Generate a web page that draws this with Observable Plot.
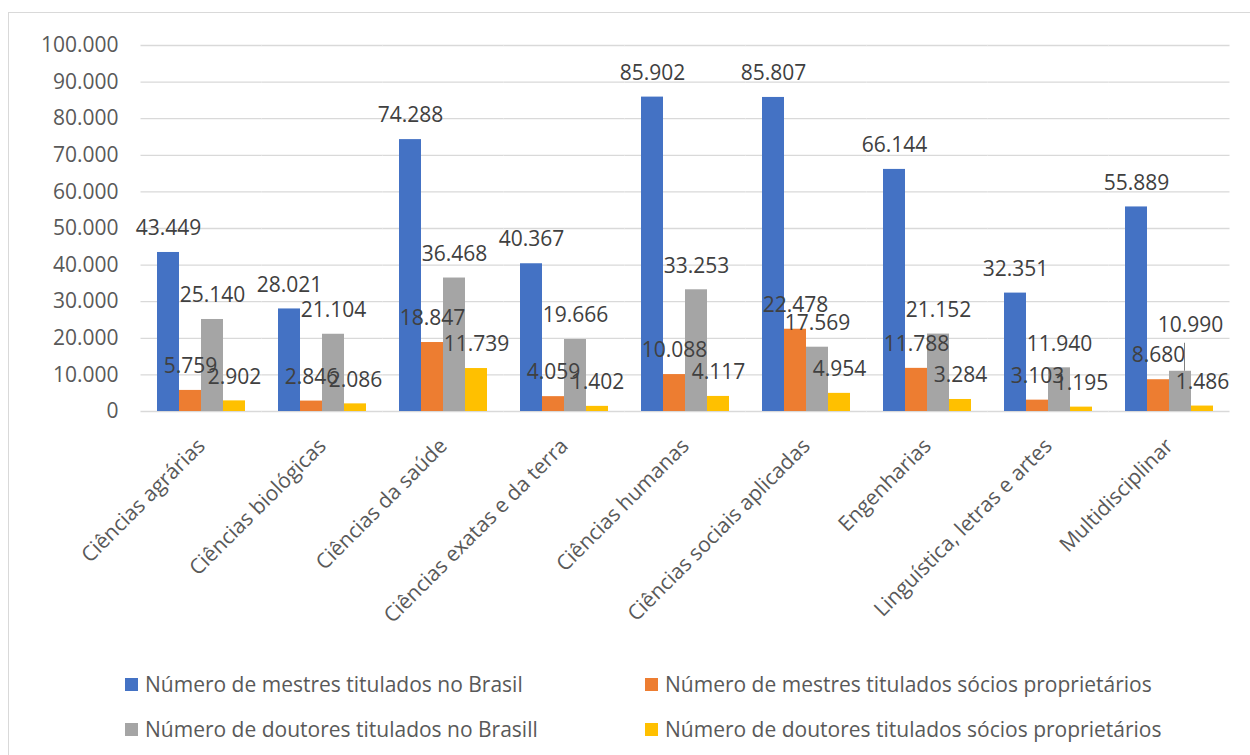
<!DOCTYPE html>
<html>
<head>
<meta charset="utf-8">
<script src="https://cdn.jsdelivr.net/npm/d3@7"></script>
<script src="https://cdn.jsdelivr.net/npm/@observablehq/plot@0.6"></script>
<style>
  html, body { margin: 0; padding: 0; background: #fff; overflow: hidden; }
  body { width: 1250px; height: 755px; position: relative; font-family: "Open Sans", sans-serif; }
  #frame { position: absolute; left: 8px; top: 12px; width: 1300px; height: 800px; border: 1px solid #d9d9d9; box-sizing: border-box; }
  #chart { position: absolute; left: 0; top: 0; }
  #legend { position: absolute; left: 125px; top: 671px; display: grid; grid-template-columns: 520px 520px; row-gap: 19px; }
  .item { display: flex; align-items: center; font-size: 21px; line-height: 26px; color: #595959; white-space: nowrap; }
  .sw { width: 13px; height: 13px; margin-right: 7px; flex: none; }
</style>
</head>
<body>
<div id="frame"></div>
<div id="chart"></div>
<div id="legend"></div>
<script>
const categories = [
  "Ciências agrárias",
  "Ciências biológicas",
  "Ciências da saúde",
  "Ciências exatas e da terra",
  "Ciências humanas",
  "Ciências sociais aplicadas",
  "Engenharias",
  "Linguística, letras e artes",
  "Multidisciplinar"
];
const seriesNames = [
  "Número de mestres titulados no Brasil",
  "Número de mestres titulados sócios proprietários",
  "Número de doutores titulados no Brasill",
  "Número de doutores titulados sócios proprietários"
];
const mestresBrasil  = [43449, 28021, 74288, 40367, 85902, 85807, 66144, 32351, 55889];
const mestresSocios  = [5759, 2846, 18847, 4059, 10088, 22478, 11788, 3103, 8680];
const doutoresBrasil = [25140, 21104, 36468, 19666, 33253, 17569, 21152, 11940, 10990];
const doutoresSocios = [2902, 2086, 11739, 1402, 4117, 4954, 3284, 1195, 1486];
const seriesColors = ["#4472C4", "#ED7D31", "#A5A5A5", "#FFC000"];
const yTicks = [0, 10000, 20000, 30000, 40000, 50000, 60000, 70000, 80000, 90000, 100000];

// label moved off its bar (with leader line) in the original
const displacedLabel = { category: "Multidisciplinar", series: "Número de doutores titulados no Brasill" };

const seriesValues = [mestresBrasil, mestresSocios, doutoresBrasil, doutoresSocios];
const data = [];
categories.forEach((c, i) => {
  seriesNames.forEach((s, j) => data.push({ category: c, series: s, value: seriesValues[j][i] }));
});

const ptBR = d3.formatLocale({ decimal: ",", thousands: ".", grouping: [3], currency: ["R$", ""] });
const fmt = ptBR.format(",d");
const isDisplaced = d => d.category === displacedLabel.category && d.series === displacedLabel.series;

const chart = Plot.plot({
  width: 1250,
  height: 640,
  marginLeft: 140,
  marginRight: 20,
  marginTop: 45,
  marginBottom: 229,
  style: { fontFamily: "Open Sans", fontSize: "21px", color: "#595959", background: "transparent", overflow: "visible" },
  fx: { domain: categories, paddingInner: 0.27, paddingOuter: 0.135, label: null, axis: "bottom", tickRotate: -45, tickSize: 0, tickPadding: 31 },
  x: { domain: seriesNames, padding: 0, axis: null },
  y: { domain: [0, 100000], ticks: yTicks, tickFormat: fmt, tickSize: 0, tickPadding: 39, label: null },
  color: { domain: seriesNames, range: seriesColors },
  marks: [
    Plot.ruleY(yTicks, { stroke: "#d9d9d9", strokeWidth: 1.3, insetLeft: -16.5, insetRight: -16.5 }),
    Plot.barY(data, { fx: "category", x: "series", y: "value", fill: "series" }),
    Plot.text(data.filter(d => !isDisplaced(d)), {
      fx: "category", x: "series", y: "value", text: d => fmt(d.value),
      dy: -24, fill: "#404040", fontSize: 21
    }),
    Plot.text(data.filter(isDisplaced), {
      fx: "category", x: "series", y: "value", text: d => fmt(d.value),
      dy: -46, dx: 10, fill: "#404040", fontSize: 21
    }),
    Plot.ruleX(data.filter(isDisplaced), {
      fx: "category", x: "series", y1: "value", y2: "value",
      insetTop: -28, dx: 4, stroke: "#7f7f7f", strokeWidth: 1
    })
  ]
});
document.getElementById("chart").appendChild(chart);

const legend = document.getElementById("legend");
seriesNames.forEach((s, i) => {
  const item = document.createElement("div");
  item.className = "item";
  const sw = document.createElement("span");
  sw.className = "sw";
  sw.style.background = seriesColors[i];
  const t = document.createElement("span");
  t.textContent = s;
  item.appendChild(sw);
  item.appendChild(t);
  legend.appendChild(item);
});
</script>
</body>
</html>
